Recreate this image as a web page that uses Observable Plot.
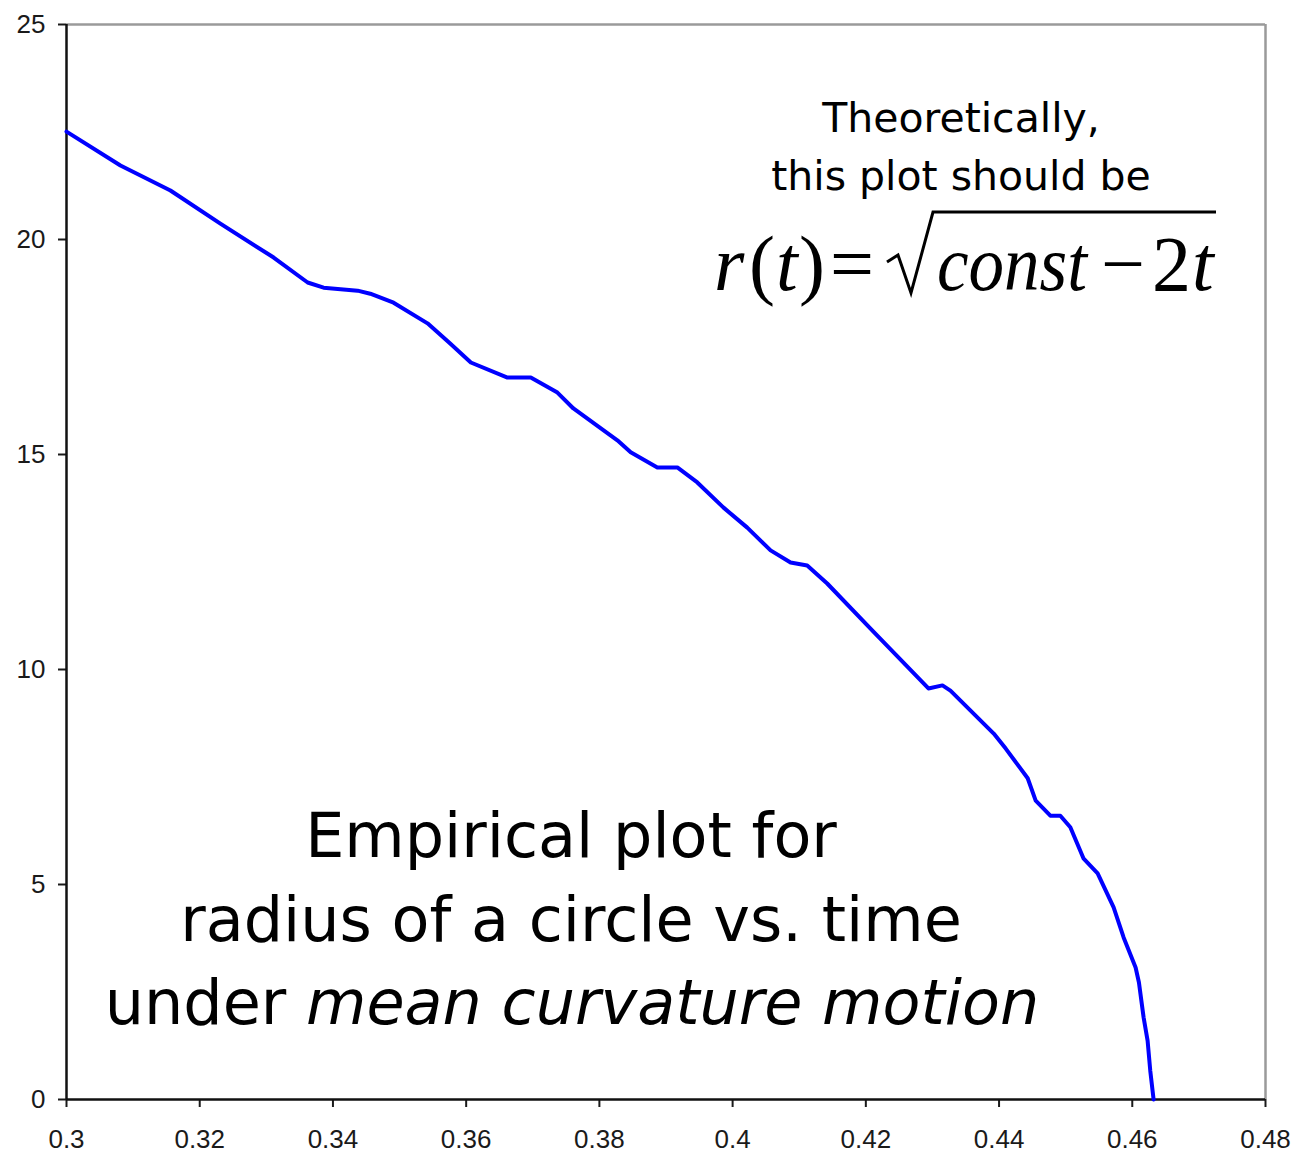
<!DOCTYPE html>
<html>
<head>
<meta charset="utf-8">
<script src="https://cdn.jsdelivr.net/npm/d3@7"></script>
<script src="https://cdn.jsdelivr.net/npm/@observablehq/plot@0.6"></script>
<style>
  html, body { margin: 0; padding: 0; background: #fff; }
  #wrap { position: relative; width: 1293px; height: 1154px; }
  #notes { position: absolute; left: 0; top: 0; pointer-events: none; }
</style>
</head>
<body>
<div id="wrap"></div>
<script>
// Simulated radius of a shrinking circle (mean curvature flow) against time
const time = [
  0.3000, 0.3081, 0.3156, 0.3231, 0.3311, 0.3362, 0.3386, 0.3437, 0.3456, 0.3491,
  0.3542, 0.3576, 0.3607, 0.3662, 0.3697, 0.3737, 0.3761, 0.3827, 0.3847, 0.3887,
  0.3917, 0.3947, 0.3986, 0.4022, 0.4057, 0.4087, 0.4112, 0.4142, 0.4207, 0.4294,
  0.4315, 0.4327, 0.4392, 0.4410, 0.4443, 0.4455, 0.4477, 0.4492, 0.4507, 0.4527,
  0.4548, 0.4572, 0.4587, 0.4605, 0.4610, 0.4617, 0.4623, 0.4627, 0.4632
];
const radius = [
  22.51, 21.72, 21.14, 20.37, 19.58, 19.00, 18.88, 18.81, 18.74, 18.53,
  18.05, 17.58, 17.14, 16.79, 16.79, 16.44, 16.07, 15.33, 15.05, 14.70,
  14.70, 14.35, 13.77, 13.30, 12.77, 12.49, 12.42, 12.00, 10.95, 9.56,
  9.63, 9.51, 8.51, 8.16, 7.47, 6.95, 6.60, 6.60, 6.33, 5.60,
  5.26, 4.47, 3.77, 3.07, 2.72, 1.91, 1.37, 0.67, 0.00
];

const xTicks = [0.3, 0.32, 0.34, 0.36, 0.38, 0.4, 0.42, 0.44, 0.46, 0.48];
const xTickLabels = ["0.3", "0.32", "0.34", "0.36", "0.38", "0.4", "0.42", "0.44", "0.46", "0.48"];
const yTicks = [0, 5, 10, 15, 20, 25];

const series = time.map((t, i) => ({t, r: radius[i]}));

const chart = Plot.plot({
  width: 1293,
  height: 1154,
  marginLeft: 66,
  marginRight: 28,
  marginTop: 24,
  marginBottom: 55,
  x: {domain: [0.3, 0.48]},
  y: {domain: [0, 25]},
  style: {fontFamily: "'Liberation Sans', Arial, sans-serif", fontSize: "26px", color: "#1a1a1a", background: "#fff", overflow: "visible"},
  marks: [
    Plot.ruleY([25], {stroke: "#9a9a9a", strokeWidth: 2.5}),
    Plot.ruleX([0.48], {stroke: "#9a9a9a", strokeWidth: 2.5}),
    Plot.axisX({
      ticks: xTicks,
      tickFormat: d => xTickLabels[xTicks.findIndex(v => Math.abs(v - d) < 1e-9)],
      tickSize: 8, tickPadding: 22, strokeWidth: 2, label: null
    }),
    Plot.axisY({ticks: yTicks, tickSize: 8, tickPadding: 13, strokeWidth: 2, label: null}),
    Plot.ruleX([0.3], {stroke: "#111", strokeWidth: 2.5}),
    Plot.ruleY([0], {stroke: "#111", strokeWidth: 2.5}),
    Plot.line(series, {x: "t", y: "r", stroke: "#0000ff", strokeWidth: 4, strokeLinejoin: "round"})
  ]
});

const wrap = document.getElementById("wrap");
wrap.appendChild(chart);

// Annotation layer: the theoretical formula and the description of the curve
const NS = "http://www.w3.org/2000/svg";
const notes = document.createElementNS(NS, "svg");
notes.setAttribute("id", "notes");
notes.setAttribute("width", 1293);
notes.setAttribute("height", 1154);
wrap.appendChild(notes);

function addText(x, y, str, attrs) {
  const el = document.createElementNS(NS, "text");
  el.setAttribute("x", x);
  el.setAttribute("y", y);
  for (const k in attrs) el.setAttribute(k, attrs[k]);
  el.textContent = str;
  notes.appendChild(el);
  return el;
}

const sans = {"font-family": "'DejaVu Sans', Verdana, sans-serif", fill: "#000"};

// Heading of the formula
addText(961, 132, "Theoretically,", {...sans, "font-size": 41, "text-anchor": "middle"});
addText(961, 190, "this plot should be", {...sans, "font-size": 41, "text-anchor": "middle"});

// r(t) = sqrt(const - 2t)
const serif = {"font-family": "'Liberation Serif', 'Times New Roman', serif", "font-size": 78, fill: "#000"};
const it = {...serif, "font-style": "italic"};
addText(714, 290, "r", it);
addText(749, 290, "(", serif);
addText(776, 290, "t", it);
addText(799, 290, ")", serif);
addText(830, 290, "=", serif);
addText(937, 290, "const", {...it, textLength: 150, lengthAdjust: "spacingAndGlyphs"});
addText(1101, 290, "\u2212", serif);
addText(1152, 290, "2", serif);
addText(1192, 290, "t", it);

const rad = document.createElementNS(NS, "path");
rad.setAttribute("d", "M887,262 L898,255 L911,293 L933,212 L1216,212");
rad.setAttribute("fill", "none");
rad.setAttribute("stroke", "#000");
rad.setAttribute("stroke-width", 3);
rad.setAttribute("stroke-linejoin", "miter");
notes.appendChild(rad);

// Description of the curve
const big = {...sans, "font-size": 62, "text-anchor": "middle"};
addText(571, 857, "Empirical plot for", big);
addText(571, 941, "radius of a circle vs. time", big);
const last = addText(572, 1024, "", big);
const t1 = document.createElementNS(NS, "tspan");
t1.textContent = "under ";
const t2 = document.createElementNS(NS, "tspan");
t2.setAttribute("font-style", "italic");
t2.textContent = "mean curvature motion";
last.appendChild(t1);
last.appendChild(t2);
</script>
</body>
</html>
